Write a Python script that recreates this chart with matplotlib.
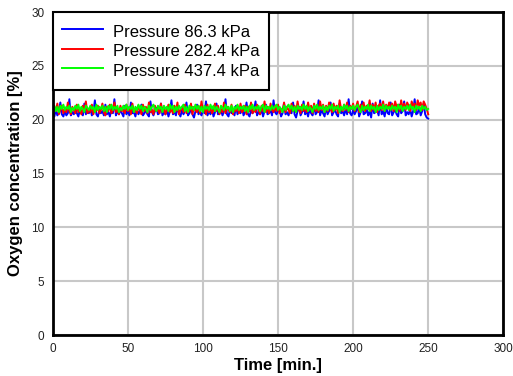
import numpy as np
import matplotlib
matplotlib.use('Agg')
import matplotlib.pyplot as plt

# --- data (one sample per minute) ---
time_min = np.arange(0, 251, 1)

o2_86 = [20.5, 20.3, 20.9, 20.4, 20.7, 21.6, 20.5, 20.3, 20.8, 20.4, 20.6, 21.9, 20.4, 20.7, 20.5, 21.2, 20.6, 20.3, 20.9, 20.6, 20.4, 21.5, 20.5, 20.8, 20.6,
         21.0, 20.4, 20.7, 21.8, 20.5, 20.3, 20.9, 20.6, 20.8, 20.4, 21.4, 20.5, 20.7, 20.3, 21.0, 20.6, 21.9, 20.4, 20.8, 20.5, 20.9, 20.6, 20.3, 21.3, 20.5,
         20.8, 20.4, 21.6, 20.6, 20.7, 20.3, 21.0, 20.5, 20.8, 21.4, 20.4, 20.6, 20.9, 20.5, 20.3, 21.7, 20.7, 20.4, 20.8, 21.1, 20.5, 20.6, 21.5, 20.4, 20.7,
         20.5, 20.9, 20.3, 20.8, 21.8, 20.5, 20.7, 20.4, 21.2, 20.6, 20.3, 20.9, 20.5, 20.8, 21.6, 20.4, 20.6, 21.0, 20.5, 20.2, 20.8, 21.4, 20.5, 20.7, 20.4,
         20.9, 20.6, 21.7, 20.4, 20.8, 20.5, 21.0, 20.3, 20.7, 21.5, 20.5, 20.6, 20.9, 20.4, 20.8, 21.9, 20.5, 20.3, 21.0, 20.6, 20.7, 20.4, 21.3, 20.5, 20.8,
         20.6, 21.2, 20.4, 20.7, 21.6, 20.5, 20.3, 20.9, 20.6, 20.8, 21.7, 20.4, 20.7, 20.5, 21.0, 20.3, 20.8, 21.4, 20.5, 20.6, 20.9, 20.4, 21.8, 20.7, 20.5,
         20.8, 21.0, 20.3, 20.6, 21.5, 20.5, 20.7, 20.4, 20.9, 20.6, 21.6, 20.5, 20.2, 20.8, 21.2, 20.4, 20.7, 21.7, 20.5, 20.8, 20.3, 21.0, 20.6, 20.4, 21.4,
         20.5, 20.7, 21.8, 20.4, 20.9, 20.6, 20.3, 21.2, 20.5, 20.8, 21.6, 20.4, 20.7, 20.9, 20.5, 20.3, 21.5, 20.6, 20.8, 20.4, 21.0, 20.5, 21.9, 20.6, 20.4,
         20.9, 20.5, 20.8, 21.4, 20.3, 20.7, 21.7, 20.5, 20.6, 21.0, 20.4, 20.8, 20.2, 21.5, 20.6, 20.7, 20.9, 20.4, 21.8, 20.5, 20.8, 20.3, 21.2, 20.6, 20.5,
         21.6, 20.4, 20.7, 20.9, 20.5, 20.3, 21.4, 20.6, 20.8, 21.7, 20.4, 20.7, 20.5, 21.0, 20.3, 20.8, 21.9, 20.5, 20.6, 21.2, 20.4, 20.8, 21.5, 20.5, 20.2,
         20.1]

o2_282 = [20.6, 21.2, 20.8, 21.5, 20.5, 20.9, 21.3, 20.6, 21.0, 20.7, 21.6, 20.8, 20.5, 21.2, 20.9, 20.6, 21.4, 20.7, 21.0, 20.5, 21.3, 20.8, 21.7, 20.6, 20.9,
          20.7, 21.4, 20.5, 21.0, 20.8, 21.3, 20.6, 20.9, 21.5, 20.7, 20.4, 21.2, 20.8, 21.4, 20.6, 20.9, 21.6, 20.7, 21.0, 20.5, 21.3, 20.8, 20.9, 20.6, 21.4,
          20.8, 21.2, 20.5, 21.5, 20.7, 21.0, 20.6, 21.3, 20.9, 20.5, 21.4, 20.8, 21.2, 20.6, 21.6, 20.7, 20.9, 20.5, 21.3, 20.8, 21.0, 20.6, 21.5, 20.7, 21.2,
          20.5, 20.9, 21.4, 20.7, 21.0, 20.6, 21.3, 20.8, 21.6, 20.5, 20.9, 21.2, 20.7, 21.4, 20.6, 21.0, 20.8, 21.5, 20.5, 21.2, 20.9, 20.7, 21.3, 20.6, 21.7,
          20.8, 21.1, 20.5, 21.4, 20.7, 21.2, 20.6, 20.9, 21.5, 20.8, 21.3, 20.5, 21.0, 20.7, 21.6, 20.6, 21.2, 20.9, 20.7, 21.4, 20.5, 21.0, 20.8, 21.3, 20.6,
          21.5, 20.7, 20.9, 21.3, 20.5, 21.2, 20.8, 21.6, 20.6, 21.0, 20.7, 21.4, 20.9, 20.5, 21.3, 20.8, 21.7, 20.7, 21.2, 20.6, 21.5, 20.9, 20.7, 21.3, 20.8,
          21.4, 20.6, 21.0, 20.8, 21.6, 20.7, 21.2, 20.9, 20.6, 21.5, 20.8, 21.3, 20.7, 21.7, 20.9, 20.6, 21.4, 20.8, 21.2, 20.7, 21.6, 20.9, 21.3, 20.6, 21.5,
          20.8, 21.2, 20.7, 21.7, 20.9, 21.4, 20.7, 21.3, 20.8, 21.6, 21.0, 20.7, 21.5, 20.9, 21.3, 20.6, 21.8, 21.0, 20.8, 21.4, 20.9, 21.6, 20.7, 21.3, 21.0,
          21.5, 20.8, 21.2, 21.7, 20.7, 21.4, 20.9, 21.6, 20.8, 21.3, 21.0, 21.8, 20.8, 21.4, 20.9, 21.6, 20.7, 21.3, 21.5, 20.9, 21.7, 20.8, 21.4, 21.0, 21.6,
          20.9, 21.5, 20.8, 21.7, 21.2, 21.4, 20.8, 21.8, 21.0, 21.5, 20.9, 21.6, 21.3, 20.8, 21.7, 21.2, 21.5, 20.9, 21.8, 21.3, 21.6, 20.9, 21.7, 21.4, 21.0,
          20.5]

o2_437 = [21.0, 21.3, 20.8, 21.2, 20.7, 21.3, 21.0, 21.4, 20.9, 21.2, 21.0, 21.3, 20.7, 21.1, 20.9, 21.3, 21.0, 21.4, 20.8, 21.2, 21.0, 20.7, 21.3, 21.1, 20.9,
          21.3, 21.0, 21.2, 20.7, 21.4, 20.9, 21.2, 21.0, 21.3, 20.8, 21.2, 20.7, 21.3, 21.0, 21.4, 20.9, 21.2, 21.0, 21.3, 20.7, 21.1, 20.9, 21.3, 21.0, 21.4,
          20.9, 21.2, 21.0, 21.3, 20.7, 21.2, 20.9, 21.4, 21.0, 21.3, 20.8, 21.2, 21.0, 20.7, 21.3, 20.9, 21.2, 21.4, 21.0, 20.8, 21.3, 21.0, 21.2, 20.7, 21.3,
          21.0, 21.2, 20.8, 21.4, 21.0, 21.3, 20.7, 21.2, 20.9, 21.3, 21.0, 21.2, 21.4, 20.8, 21.2, 20.7, 21.3, 21.0, 21.2, 20.9, 21.4, 21.0, 21.3, 20.8, 21.2,
          20.7, 21.3, 21.0, 21.2, 20.9, 21.4, 21.0, 21.3, 20.8, 21.2, 21.0, 20.7, 21.3, 21.1, 20.9, 21.4, 21.0, 21.2, 20.8, 21.3, 20.7, 21.2, 21.0, 21.4, 20.9,
          21.2, 21.0, 21.3, 20.8, 21.2, 20.7, 21.3, 21.0, 21.4, 20.9, 21.2, 21.0, 21.3, 20.8, 21.2, 21.4, 20.7, 21.3, 21.0, 21.2, 20.9, 21.3, 21.0, 21.2, 21.4,
          20.9, 21.2, 21.0, 20.7, 21.3, 20.9, 21.2, 21.4, 21.0, 21.3, 20.8, 21.2, 20.7, 21.3, 21.0, 21.2, 20.9, 21.4, 21.0, 21.3, 20.8, 21.2, 21.0, 20.7, 21.3,
          21.0, 21.4, 20.9, 21.2, 21.0, 21.3, 20.7, 21.2, 20.9, 21.3, 21.0, 21.4, 20.8, 21.2, 21.0, 21.3, 20.7, 21.2, 20.9, 21.4, 21.0, 21.3, 20.8, 21.2, 21.0,
          21.3, 20.9, 21.2, 21.4, 21.0, 20.7, 21.3, 20.9, 21.2, 21.0, 21.4, 20.8, 21.3, 21.0, 21.2, 20.7, 21.3, 20.9, 21.2, 21.0, 21.4, 20.8, 21.3, 21.0, 21.2,
          20.9, 21.3, 21.0, 21.2, 20.7, 21.4, 21.0, 21.3, 20.8, 21.2, 21.0, 21.3, 20.9, 21.4, 21.0, 21.2, 20.7, 21.3, 21.0, 21.2, 20.8, 21.3, 21.0, 21.2, 20.9,
          21.0]

labels = ["Pressure 86.3 kPa", "Pressure 282.4 kPa", "Pressure 437.4 kPa"]
colors = ["#0000ff", "#ff0000", "#00ff00"]

plt.rcParams['font.family'] = ['Liberation Sans', 'DejaVu Sans']

fig = plt.figure(figsize=(5.13, 3.76), dpi=100)
ax = fig.add_axes([0.103, 0.109, 0.878, 0.859])

for y, lab, c in zip([o2_86, o2_282, o2_437], labels, colors):
    ax.plot(time_min, y, color=c, lw=1.4, label=lab)

ax.set_xlim(0, 300)
ax.set_ylim(0, 30)
ax.set_xticks(range(0, 301, 50))
ax.set_yticks(range(0, 31, 5))
ax.grid(True, color='#c8c8c8', lw=1.5)
ax.set_axisbelow(True)
ax.tick_params(length=0, labelsize=8.5, pad=6, labelcolor='#222222')
for s in ax.spines.values():
    s.set_linewidth(2)
    s.set_color('black')

ax.set_xlabel("Time [min.]", fontsize=12, fontweight='bold', labelpad=2)
ax.set_ylabel("Oxygen concentration [%]", fontsize=12, fontweight='bold', labelpad=6)

# tall rows + small side padding, like the original legend box
leg = ax.legend(loc='upper left', fontsize=12, fancybox=False, framealpha=1,
                edgecolor='black', borderaxespad=0, handlelength=2.45,
                handletextpad=0.6, handleheight=1.5, labelspacing=-0.05,
                borderpad=0.55)
leg.get_frame().set_linewidth(1.5)

fig.savefig("out.png", dpi=100)
